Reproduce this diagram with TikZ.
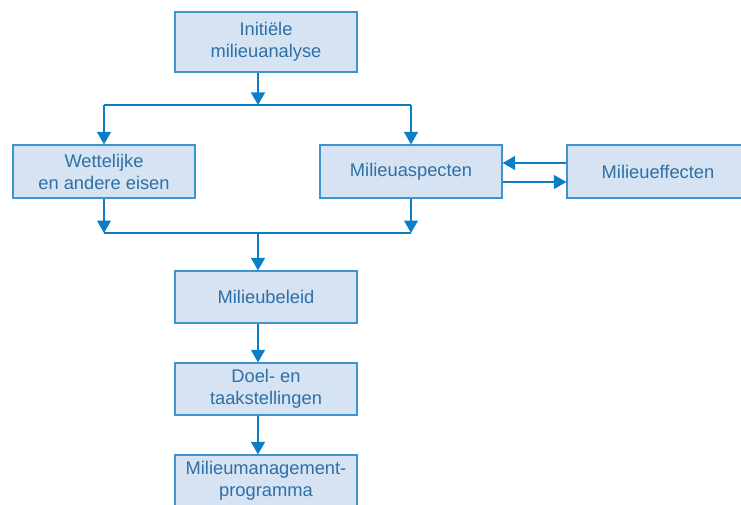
\documentclass[tikz,border=0pt]{standalone}
\usepackage{fontspec}
\setmainfont{Liberation Sans}
\usetikzlibrary{arrows.meta,calc}
\definecolor{boxfill}{HTML}{D5E3F2}
\definecolor{boxline}{HTML}{3D94D1}
\definecolor{txt}{HTML}{2F6FA6}
\definecolor{arr}{HTML}{0B7FC6}
\begin{document}
\begin{tikzpicture}[x=1pt,y=-1pt,
 box/.style={draw=boxline, fill=boxfill, line width=1.3pt, text=txt, font=\fontsize{18.3}{22}\selectfont, align=center, minimum width=182pt, minimum height=52pt, inner sep=0pt},
 conn/.style={draw=arr, line width=1.3pt},
 arrow/.style={conn, -{Triangle[length=12.5pt,width=14pt]}}]
\useasboundingbox (0,0) rectangle (741,505);
\clip (0,0) rectangle (741,505);
\node[box, minimum height=60pt] (b1) at (266,42) {Initiële\\milieuanalyse};
\node[box, minimum height=53pt] (b2) at (104,171.5) {Wettelijke\\en andere eisen};
\node[box, minimum height=53pt] (b3) at (411,171.5) {Milieuaspecten};
\node[box, minimum height=53pt] (b4) at (658,171.5) {Milieueffecten};
\node[box] (b5) at (266,297) {Milieubeleid};
\node[box] (b6) at (266,389) {Doel- en\\taakstellingen};
\node[box] (b7) at (266,481) {Milieumanagement-\\programma};
\coordinate (j1) at (258,105);
\coordinate (j2) at (258,233);
\draw[arrow] (b1.south -| j1) -- (j1);
\draw[conn] (b2 |- j1) -- (b3 |- j1);
\draw[arrow] (b2 |- j1) -- (b2.north);
\draw[arrow] (b3 |- j1) -- (b3.north);
\draw[arrow] (b2.south) -- (b2 |- j2);
\draw[arrow] (b3.south) -- (b3 |- j2);
\draw[conn] (b2 |- j2) -- (b3 |- j2);
\draw[arrow] (j2) -- (b5.north -| j2);
\draw[arrow] (b5.south -| j2) -- (b6.north -| j2);
\draw[arrow] (b6.south -| j2) -- (b7.north -| j2);
\draw[arrow] ($(b4.west)+(0,-8.5)$) -- ($(b3.east)+(0,-8.5)$);
\draw[arrow] ($(b3.east)+(0,10.5)$) -- ($(b4.west)+(0,10.5)$);
\end{tikzpicture}
\end{document}
